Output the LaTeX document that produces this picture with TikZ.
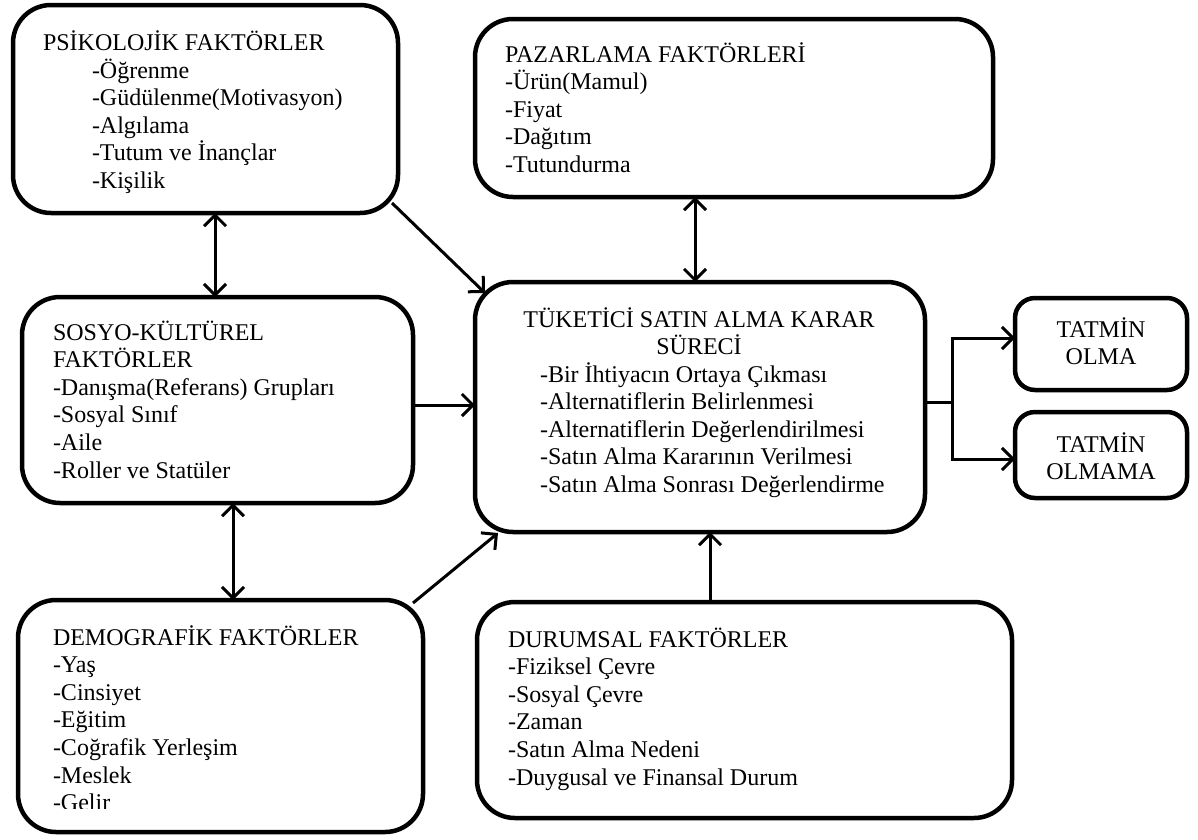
\documentclass[tikz,border=0pt]{standalone}
\usepackage{fontspec}
\setmainfont{Liberation Serif}
\usetikzlibrary{arrows.meta}
\begin{document}
\begin{tikzpicture}[x=1pt,y=-1pt,
  every node/.style={font=\fontsize{24}{27.6}\selectfont, inner sep=0pt, outer sep=0pt},
  box/.style={draw, line width=4.5pt, rounded corners=38pt},
  smallbox/.style={draw, line width=4.5pt, rounded corners=20pt},
  txt/.style={anchor=base west, align=left},
  conn/.style={line width=3pt},
  >={Straight Barb[length=11pt,width=22pt]}]
\useasboundingbox (0,0) rectangle (1198,839);
% line pitch of the box texts; multi-line nodes are placed by their last baseline
\def\lp{27.6}

% factor boxes
\node[box, minimum width=385pt, minimum height=208pt] (psi) at (205.5,109) {};
\node[box, minimum width=518pt, minimum height=178pt] (paz) at (734,108) {};
\node[box, minimum width=391pt, minimum height=206pt] (soc) at (217.5,400) {};
\node[box, minimum width=450pt, minimum height=250pt] (tuk) at (700,407) {};
\node[box, minimum width=405pt, minimum height=232pt] (dem) at (220.5,716) {};
\node[box, minimum width=535pt, minimum height=216pt] (dur) at (744.5,710) {};
% outcome boxes
\node[smallbox, minimum width=172pt, minimum height=92pt] (ok) at (1101,344) {};
\node[smallbox, minimum width=172pt, minimum height=86pt] (nok) at (1101,455) {};

% box texts
\node[txt] (psiT) at (43,50) {PSİKOLOJİK FAKTÖRLER};
\node[txt] (psiL) at (92,{78+4*\lp}) {-Öğrenme\\-Güdülenme(Motivasyon)\\-Algılama\\-Tutum ve İnançlar\\-Kişilik};
\node[txt] (pazT) at (505,{62+4*\lp}) {PAZARLAMA FAKTÖRLERİ\\-Ürün(Mamul)\\-Fiyat\\-Dağıtım\\-Tutundurma};
\node[txt] (socT) at (53,{340+5*\lp}) {SOSYO-KÜLTÜREL\\FAKTÖRLER\\-Danışma(Referans) Grupları\\-Sosyal Sınıf\\-Aile\\-Roller ve Statüler};
\node[anchor=base, align=center] (tukT) at (699,{327+\lp}) {TÜKETİCİ SATIN ALMA KARAR\\SÜRECİ};
\node[txt] (tukL) at (540,{382+4*\lp}) {-Bir İhtiyacın Ortaya Çıkması\\-Alternatiflerin Belirlenmesi\\-Alternatiflerin Değerlendirilmesi\\-Satın Alma Kararının Verilmesi\\-Satın Alma Sonrası Değerlendirme};
\begin{scope}
  \clip (0,0) rectangle (1198,808);
  \node[txt] (demT) at (53,{645+6*\lp}) {DEMOGRAFİK FAKTÖRLER\\-Yaş\\-Cinsiyet\\-Eğitim\\-Coğrafik Yerleşim\\-Meslek\\-Gelir};
\end{scope}
\node[txt] (durT) at (508,{647+5*\lp}) {DURUMSAL FAKTÖRLER\\-Fiziksel Çevre\\-Sosyal Çevre\\-Zaman\\-Satın Alma Nedeni\\-Duygusal ve Finansal Durum};
\node[anchor=base, align=center] (okT) at (1101,{337+\lp}) {TATMİN\\OLMA};
\node[anchor=base, align=center] (nokT) at (1101,{452+\lp}) {TATMİN\\OLMAMA};

% connectors
\draw[conn,<->] (psi.south -| 215,0) -- (soc.north -| 215,0);
\draw[conn,<->] (paz.south -| 695,0) -- (tuk.north -| 695,0);
\draw[conn,<->] (soc.south -| 233,0) -- (dem.north -| 233,0);
\draw[conn,->] ([shift={(-6,-10)}]psi.south east) -- ([shift={(10,11)}]tuk.north west);
\draw[conn,->] (soc.east |- 0,405) -- (tuk.west |- 0,405);
\draw[conn,->] ([shift={(-10,3)}]dem.north east) -- ([shift={(23,1)}]tuk.south west);
\draw[conn,->] (dur.north -| 710,0) -- (tuk.south -| 710,0);

\coordinate (split) at (952,402);
\draw[conn] (tuk.east |- split) -- (split);
\draw[conn,->] (split) |- (ok.west |- 0,338);
\draw[conn,->] (split) |- (nok.west |- 0,459);
\end{tikzpicture}
\end{document}
